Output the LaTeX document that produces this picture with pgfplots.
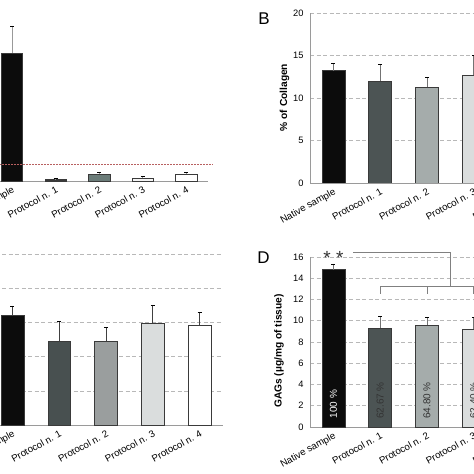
\documentclass[border=0pt]{standalone}
\usepackage{fontspec}
\setmainfont{Liberation Sans}
\usepackage{pgfplots}
\pgfplotsset{compat=1.18}
\definecolor{axisgray}{HTML}{9A9A9A}
\definecolor{gridgray}{HTML}{B8B8B8}
\definecolor{bardraw}{HTML}{3A3A3A}
\definecolor{nat}{HTML}{0C0C0C}
\definecolor{pa}{HTML}{4C5454}
\definecolor{pb}{HTML}{A5ACAB}
\definecolor{pc}{HTML}{DADDDD}
\definecolor{Apa}{HTML}{3A3A3A}
\definecolor{Apb}{HTML}{6B7C79}
\definecolor{Apc}{HTML}{F4F4F4}
\definecolor{Cpa}{HTML}{485050}
\definecolor{Cpb}{HTML}{9A9E9E}
\definecolor{redline}{HTML}{B86060}
\pgfplotsset{
  panel/.style={
    scale only axis, anchor=south west,
    xmin=-0.5, xmax=4.5,
    axis lines=left, axis line style={-, draw=axisgray, line width=0.9pt},
    major tick length=0pt,
    xtick={0,1,2,3,4},
    xticklabels={Native sample, Protocol n. 1, Protocol n. 2, Protocol n. 3, Protocol n. 4},
    xticklabel style={yshift=-3pt, rotate=29, anchor=north east, font=\fontsize{9.7}{10}\selectfont, inner sep=1pt},
    yticklabel style={font=\fontsize{9.3}{10}\selectfont, xshift=-3pt},
    /pgf/number format/assume math mode=true,
    grid style={dash pattern=on 4pt off 2.5pt, draw=gridgray, line width=0.6pt},
    error bars/y dir=plus, error bars/y explicit,
    error bars/error mark options={rotate=90, mark size=2pt, line width=0.8pt},
  },
  bb/.style={ybar, bar shift=0pt, bar width=0.49, line width=0.6pt, draw=bardraw, fill=#1},
}
\begin{document}
\begin{tikzpicture}[x=1pt,y=1pt]
\useasboundingbox (0,0) rectangle (474,474);
\clip (0,0) rectangle (474,474);
% Panel A
\begin{axis}[panel, at={(-9.8pt,293pt)}, width=218.1pt, height=170pt,
  ymin=0, ymax=500, ytick=\empty, clip=false,
  error bars/error bar style={draw=gray!80, line width=0.8pt}]
\addplot[bb=nat] coordinates {(0,376) +- (0,80)};
\addplot[bb=Apa] coordinates {(1,4.4) +- (0,2)};
\addplot[bb=Apb] coordinates {(2,20.6) +- (0,6)};
\addplot[bb=Apc] coordinates {(3,8.8) +- (0,6)};
\addplot[bb=white] coordinates {(4,20.6) +- (0,6)};
\draw[redline, line width=0.8pt, dash pattern=on 1.5pt off 1.5pt] (axis cs:-0.5,50) -- (axis cs:4.6,50);
\end{axis}
% Panel B
\begin{axis}[panel, at={(310pt,291pt)}, width=234pt, height=170pt,
  ymin=0, ymax=20, ytick={0,5,10,15,20}, ymajorgrids,
  error bars/error bar style={draw=gray!90!black, line width=0.8pt}]
\addplot[bb=nat] coordinates {(0,13.2) +- (0,0.9)};
\addplot[bb=pa] coordinates {(1,12.0) +- (0,1.9)};
\addplot[bb=pb] coordinates {(2,11.3) +- (0,1.1)};
\addplot[bb=pc] coordinates {(3,12.7) +- (0,2.3)};
\addplot[bb=white] coordinates {(4,12.5) +- (0,1.5)};
\end{axis}
% Panel C
\begin{axis}[panel, at={(-10.9pt,49pt)}, width=233.9pt, height=171pt,
  ymin=0, ymax=25, ytick={0,5,10,15,20,25}, yticklabels={}, ymajorgrids,
  error bars/error bar style={draw=black!75, line width=0.8pt}]
\addplot[bb=nat] coordinates {(0,16.1) +- (0,1.3)};
\addplot[bb=Cpa] coordinates {(1,12.3) +- (0,2.9)};
\addplot[bb=Cpb] coordinates {(2,12.3) +- (0,1.9)};
\addplot[bb=pc] coordinates {(3,14.9) +- (0,2.6)};
\addplot[bb=white] coordinates {(4,14.6) +- (0,1.8)};
\end{axis}
% Panel D
\begin{axis}[panel, at={(310pt,47pt)}, width=234pt, height=170pt,
  ymin=0, ymax=16, ytick={0,2,4,6,8,10,12,14,16}, ymajorgrids, clip=false,
  error bars/error bar style={draw=gray!90!black, line width=0.8pt}]
\addplot[bb=nat] coordinates {(0,14.8) +- (0,0.55)};
\addplot[bb=pa] coordinates {(1,9.3) +- (0,1.1)};
\addplot[bb=pb] coordinates {(2,9.6) +- (0,0.75)};
\addplot[bb=pc] coordinates {(3,9.2) +- (0,1.1)};
\addplot[bb=white] coordinates {(4,9.5) +- (0,0.9)};
\node[rotate=90, anchor=west, inner sep=0pt, text=white, font=\fontsize{10}{10}\selectfont] at (axis cs:0,0.8) {100 \%};
\node[rotate=90, anchor=west, inner sep=0pt, text=black!80, font=\fontsize{10}{10}\selectfont] at (axis cs:1,0.75) {62.67 \%};
\node[rotate=90, anchor=west, inner sep=0pt, text=black!80, font=\fontsize{10}{10}\selectfont] at (axis cs:2,0.75) {64.80 \%};
\node[rotate=90, anchor=west, inner sep=0pt, text=black!80, font=\fontsize{10}{10}\selectfont] at (axis cs:3,0.75) {62.40 \%};
\draw[gray, line width=0.8pt] (axis cs:0.42,16.44) -- (axis cs:2.49,16.44) -- (axis cs:2.49,13.27);
\draw[gray, line width=0.8pt] (axis cs:1,13.27) -- (axis cs:4,13.27);
\draw[gray, line width=0.8pt] (axis cs:1,12.52) -- (axis cs:1,13.27);
\draw[gray, line width=0.8pt] (axis cs:2,12.52) -- (axis cs:2,13.27);
\draw[gray, line width=0.8pt] (axis cs:3,12.52) -- (axis cs:3,13.27);
\draw[gray, line width=0.8pt] (axis cs:4,12.52) -- (axis cs:4,13.27);
\node[font=\fontsize{19}{19}\selectfont, text=black!80] at (axis cs:0,15.95) {* *};
\end{axis}
% Labels
\node[font=\fontsize{17}{17}\selectfont] at (264,455) {B};
\node[font=\fontsize{17}{17}\selectfont] at (263.5,216) {D};
\node[rotate=90, font=\bfseries\fontsize{10.2}{12}\selectfont] at (284.5,376.5) {\% of Collagen};
\node[rotate=90, font=\bfseries\fontsize{10.2}{12}\selectfont] at (279,123) {GAGs (µg/mg of tissue)};
\end{tikzpicture}
\end{document}
